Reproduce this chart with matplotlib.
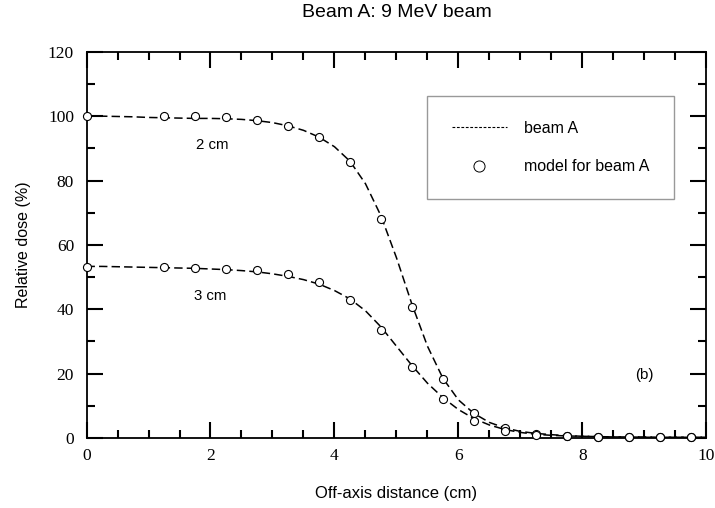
import numpy as np
import matplotlib
matplotlib.use("Agg")
import matplotlib.pyplot as plt
from matplotlib.ticker import MultipleLocator

# measured profiles (dashed lines), sampled every 0.25 cm
line_x = [i * 0.25 for i in range(41)]
line_2cm = [100, 100, 99.9, 99.8, 99.6, 99.5, 99.4, 99.3, 99.3, 99.2,
            99.0, 98.6, 98.0, 97.0, 95.6, 93.5, 90.5, 86.0, 79.0, 69.0,
            56.0, 41.5, 28.5, 18.5, 11.8, 7.6, 4.8, 3.1, 2.0, 1.4,
            1.0, 0.7, 0.5, 0.4, 0.3, 0.3, 0.3, 0.2, 0.2, 0.2, 0.2]
line_3cm = [53.3, 53.3, 53.2, 53.1, 53.0, 52.9, 52.8, 52.7, 52.5, 52.3,
            52.0, 51.6, 51.0, 50.2, 49.2, 47.8, 45.8, 43.2, 39.5, 34.5,
            28.5, 22.5, 17.0, 12.5, 8.8, 6.0, 4.0, 2.6, 1.7, 1.1,
            0.8, 0.6, 0.5, 0.4, 0.3, 0.3, 0.2, 0.2, 0.2, 0.2, 0.2]

# model points (open circles)
model_x = [0, 1.25, 1.75, 2.25, 2.75, 3.25, 3.75, 4.25, 4.75, 5.25,
           5.75, 6.25, 6.75, 7.25, 7.75, 8.25, 8.75, 9.25, 9.75]
model_2cm = [100, 100.2, 100, 99.6, 98.7, 97.0, 93.4, 85.6, 68.0, 40.7,
             18.3, 7.6, 3.0, 1.3, 0.7, 0.4, 0.3, 0.3, 0.3]
model_3cm = [53.2, 53.0, 52.8, 52.5, 52.2, 51.0, 48.3, 42.8, 33.5, 22.0,
             12.0, 5.2, 2.2, 0.9, 0.5, 0.3, 0.2, 0.2, 0.2]

sans = "Liberation Sans"
serif = "Liberation Serif"

fig = plt.figure(figsize=(7.15, 5.08), dpi=100)
ax = fig.add_axes([0.121, 0.138, 0.867, 0.760])

dash = dict(color="black", lw=1.1, dashes=(5.5, 2.7))
mk = dict(ls="none", marker="o", ms=5.8, mfc="white", mec="black", mew=0.8)

ax.plot(line_x, line_2cm, **dash)
ax.plot(line_x, line_3cm, **dash)
ax.plot(model_x, model_2cm, clip_on=False, zorder=3, **mk)
ax.plot(model_x, model_3cm, clip_on=False, zorder=3, **mk)

ax.set_xlim(0, 10)
ax.set_ylim(0, 120)
ax.xaxis.set_major_locator(MultipleLocator(2))
ax.xaxis.set_minor_locator(MultipleLocator(0.5))
ax.yaxis.set_major_locator(MultipleLocator(20))
ax.yaxis.set_minor_locator(MultipleLocator(10))
ax.tick_params(which="both", direction="in", top=True, right=True, width=1.5)
ax.tick_params(which="major", length=11.5)
ax.tick_params(axis="x", which="major", pad=7)
ax.tick_params(axis="y", which="major", pad=9)
ax.tick_params(which="minor", length=6)
for s in ax.spines.values():
    s.set_linewidth(1.3)
for lab in ax.get_xticklabels() + ax.get_yticklabels():
    lab.set_fontfamily(serif)
    lab.set_fontsize(12.5)

ax.set_xlabel("Off-axis distance (cm)", family=sans, fontsize=12, labelpad=16)
ax.set_ylabel("Relative dose (%)", family=sans, fontsize=11.5, labelpad=12)
ax.set_title("Beam A: 9 MeV beam", family=sans, fontsize=14, pad=25)

ax.text(2.03, 91, "2 cm", family=sans, fontsize=10.8, ha="center", va="center")
ax.text(2.0, 44, "3 cm", family=sans, fontsize=10.8, ha="center", va="center")
ax.text(9.0, 19.6, "(b)", family=sans, fontsize=10.8, ha="center", va="center")

# legend
h1, = ax.plot([], [], color="black", lw=0.8, dashes=(2.5, 1.5))
h2, = ax.plot([], [], ls="none", marker="o", ms=8, mfc="white", mec="black", mew=0.7)
leg = ax.legend([h1, h2], ["beam A", "model for beam A"],
                loc="upper left", bbox_to_anchor=(0.550, 0.885),
                prop={"family": sans, "size": 11.5}, frameon=True, fancybox=False,
                edgecolor="gray", borderpad=1.55, labelspacing=1.45,
                handlelength=3.4, handletextpad=1.1, borderaxespad=0)
leg.get_frame().set_linewidth(1.0)

fig.savefig("out.png", dpi=100)
